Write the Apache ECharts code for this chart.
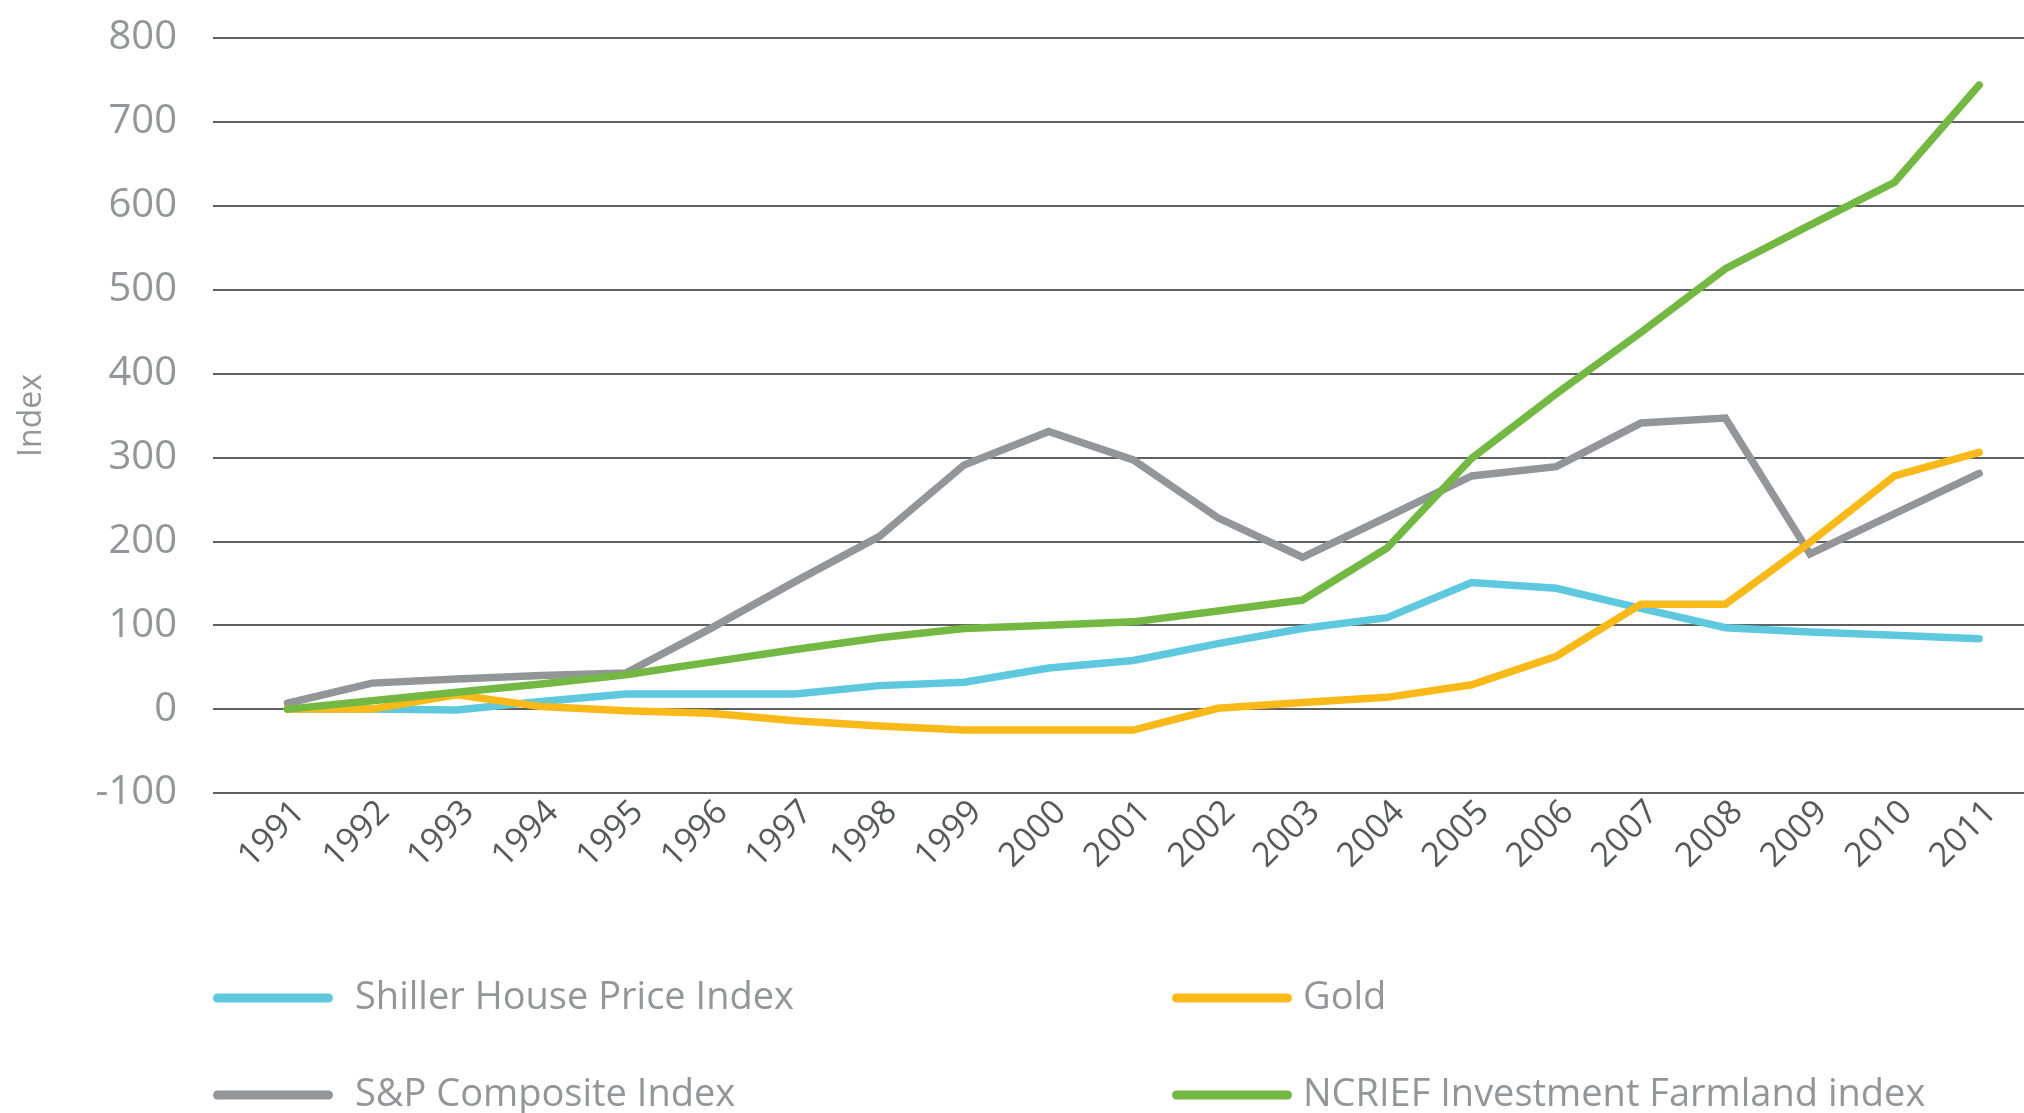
<!DOCTYPE html>
<html>
<head>
<meta charset="utf-8">
<title>Index comparison 1991-2011</title>
<script src="https://cdn.jsdelivr.net/npm/echarts@6/dist/echarts.min.js"></script>
<style>
  html, body { margin: 0; padding: 0; background: #fff; }
  #main { width: 2024px; height: 1113px; }
</style>
</head>
<body>
<div id="main"></div>
<script>
const years = [1991, 1992, 1993, 1994, 1995, 1996, 1997, 1998, 1999, 2000,
  2001, 2002, 2003, 2004, 2005, 2006, 2007, 2008, 2009, 2010, 2011]
const shiller = [0, 0, -1, 9, 18, 18, 18, 28, 32, 49, 58, 78, 96, 109, 151, 144, 120, 97, 92, 88, 84]
const gold = [0, 0, 17, 3, -2, -5, -14, -20, -25, -25, -25, 1, 8, 14, 29, 63, 125, 125, 199, 278, 306]
const sp = [7, 31, 36, 40, 43, 96, 152, 206, 291, 331, 297, 228, 181, 229, 278, 289, 341, 347, 185, 233, 281]
const ncrief = [0, 10, 20, 30, 41, 56, 71, 85, 96, 100, 104, 117, 130, 192, 299, 376, 449, 525, 577, 628, 744]
const yTicks = [-100, 0, 100, 200, 300, 400, 500, 600, 700, 800]

const font = 'Open Sans'
const lightGrey = '#939598'
const darkGrey = '#58595b'
const pill = 'path://M4.5,0 H115.5 A4.5,4.5 0 0 1 115.5,9 H4.5 A4.5,4.5 0 0 1 4.5,0 Z'

function pairs (values) {
  return years.map((y, i) => [y, values[i]])
}

function line (name, color, values) {
  return {
    name: name,
    type: 'line',
    data: pairs(values),
    symbol: 'none',
    lineStyle: { color: color, width: 7.5, cap: 'round', join: 'miter' },
    itemStyle: { color: color },
    animation: false
  }
}

function legendItem (name, left, top, gap) {
  return {
    data: [name],
    left: left,
    top: top,
    padding: 0,
    itemWidth: 120,
    itemHeight: 9,
    icon: pill,
    selectedMode: false,
    textStyle: { fontFamily: font, fontSize: 38, color: lightGrey, lineHeight: 42, padding: [0, 0, 0, gap] }
  }
}

const myChart = echarts.init(document.getElementById('main'))
myChart.setOption({
  backgroundColor: '#fff',
  grid: { left: 213, right: 0, top: 38, height: 755, outerBoundsMode: 'none' },
  legend: [
    legendItem('Shiller House Price Index', 213, 977, 17),
    legendItem('Gold', 1172, 977, 6),
    legendItem('S&P Composite Index', 213, 1074, 17),
    legendItem('NCRIEF Investment Farmland index', 1172, 1074, 6)
  ],
  xAxis: {
    type: 'value',
    min: 1990.12,
    max: 2011.53,
    axisLine: { show: false, onZero: false },
    axisTick: { show: false },
    splitLine: { show: false },
    axisLabel: {
      customValues: years,
      rotate: 45,
      margin: 2,
      align: 'right',
      verticalAlign: 'top',
      fontFamily: font,
      fontSize: 34,
      color: darkGrey,
      formatter: v => String(v)
    }
  },
  yAxis: {
    type: 'value',
    min: -100,
    max: 800,
    interval: 100,
    name: 'Index',
    nameLocation: 'middle',
    nameRotate: 90,
    nameGap: 165,
    nameTextStyle: { fontFamily: font, fontSize: 32, color: lightGrey },
    axisLine: { show: false },
    axisTick: { show: false },
    splitLine: { show: true, lineStyle: { color: '#5f6062', width: 2 } },
    axisLabel: {
      margin: 36,
      fontFamily: font,
      fontSize: 40,
      color: lightGrey,
      formatter: v => (yTicks.indexOf(v) >= 0 ? String(v) : '')
    }
  },
  series: [
    line('Shiller House Price Index', '#5ec8de', shiller),
    line('S&P Composite Index', '#939598', sp),
    line('Gold', '#f9b918', gold),
    line('NCRIEF Investment Farmland index', '#72b843', ncrief)
  ]
})
</script>
</body>
</html>
